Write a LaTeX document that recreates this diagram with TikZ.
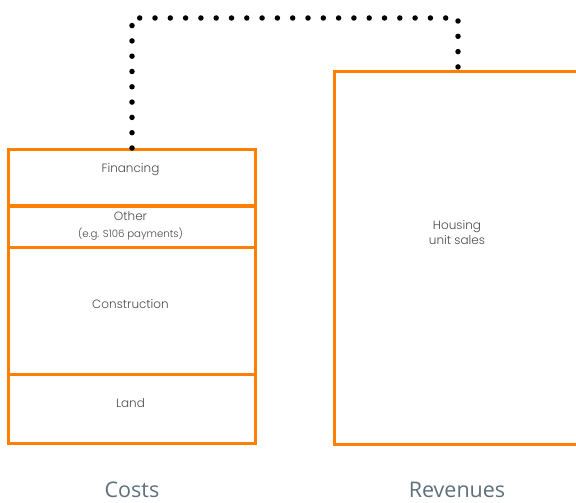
\documentclass[tikz,border=0pt]{standalone}
\usepackage{fontspec}
\newfontfamily\innerfont{Poppins Light}
\newfontfamily\captfont{Open Sans}
\definecolor{boxorange}{HTML}{FF8000}
\definecolor{innertext}{HTML}{4A4A4A}
\definecolor{capttext}{HTML}{5D707C}
\begin{document}
\begin{tikzpicture}[x=1pt,y=-1pt,
  cell/.style={draw=boxorange, line width=3pt, minimum width=247pt, inner sep=0pt, anchor=north west},
  lbl/.style={font=\innerfont\fontsize{12}{15}\selectfont, text=innertext, align=center, inner sep=0pt},
  small/.style={font=\innerfont\fontsize{10.2}{12}\selectfont, text=innertext, inner sep=0pt},
  capt/.style={font=\captfont\fontsize{21.5}{26}\selectfont, text=capttext, inner sep=0pt, anchor=base},
  dotline/.style={line width=5.5pt, line cap=round, dash pattern=on 0pt off 15.3pt}]
\useasboundingbox (0,0) rectangle (576,503);
\clip (0,0) rectangle (576,503);
% left stack
\node[cell, minimum height=56pt] (fin) at (7,148) {};
\node[cell, minimum height=41pt] (oth) at (7,204.5) {};
\node[cell, minimum height=127pt] (con) at (7,246) {};
\node[cell, minimum height=69pt] (land) at (7,373) {};
% right box
\node[cell, minimum height=373pt] (rev) at (333,70) {};
% texts
\node[lbl] (tfin) at (130.5,170) {Financing};
\node[lbl] (toth) at (130.5,216) {Other};
\node[small] (toth2) at (130.5,234.5) {(e.g. S106 payments)};
\node[lbl] (tcon) at (130.5,304) {Construction};
\node[lbl] (tland) at (130.5,403) {Land};
\node[lbl] (trev) at (457,233) {Housing\\unit sales};
% captions
\node[capt] (costs) at (132,497) {Costs};
\node[capt] (revs) at (457,497) {Revenues};
% dotted connector
\draw[dotline] (fin.north) -- ++(0,-130) -| (rev.north);
\end{tikzpicture}
\end{document}
